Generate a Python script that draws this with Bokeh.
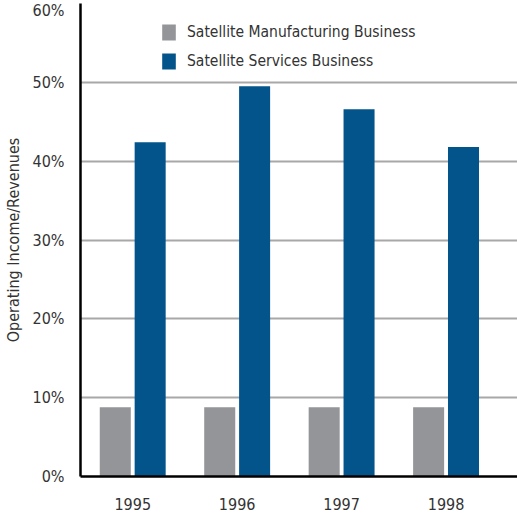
from bokeh.plotting import figure
from bokeh.models import (ColumnDataSource, Range1d, FixedTicker, PrintfTickFormatter,
                          Legend, LegendItem)
from bokeh.transform import dodge
from bokeh.embed import file_html
from bokeh.resources import INLINE

years = [1995, 1996, 1997, 1998]
year_labels = ["1995", "1996", "1997", "1998"]
manufacturing = [8.8, 8.8, 8.8, 8.8]
services = [42.4, 49.5, 46.6, 41.8]
y_ticks = [0, 10, 20, 30, 40, 50, 60]

FONT = "DejaVu Sans Condensed"
TXT = "#333333"
GREY = "#939598"
BLUE = "#02548a"

src = ColumnDataSource(dict(x=years, m=manufacturing, s=services))

p = figure(width=517, height=515, output_backend="svg", toolbar_location=None,
           x_range=Range1d(1994.5, 1998.684), y_range=Range1d(0, 60),
           min_border_left=80, min_border_right=0, min_border_top=3, min_border_bottom=39)
p.outline_line_color = None

r1 = p.vbar(x=dodge("x", -0.167), top="m", width=0.297, source=src,
            fill_color=GREY, line_color=None)
r2 = p.vbar(x=dodge("x", 0.167), top="s", width=0.297, source=src,
            fill_color=BLUE, line_color=None)

p.xgrid.grid_line_color = None
p.ygrid.grid_line_color = "#a8a8a8"
p.ygrid.grid_line_width = 2
p.ygrid.ticker = FixedTicker(ticks=y_ticks)

p.yaxis.ticker = FixedTicker(ticks=y_ticks)
p.yaxis.formatter = PrintfTickFormatter(format="%d%%")
p.xaxis.ticker = FixedTicker(ticks=years)
p.xaxis.major_label_overrides = {y: l for y, l in zip(years, year_labels)}

for ax in (p.xaxis[0], p.yaxis[0]):
    ax.axis_line_color = "black"
    ax.axis_line_width = 2.5
    ax.major_tick_line_color = None
    ax.minor_tick_line_color = None
    ax.major_label_text_font = FONT
    ax.major_label_text_font_size = "16px"
    ax.major_label_text_color = TXT

p.xaxis.major_label_standoff = 15
p.yaxis.major_label_standoff = 10
p.yaxis.axis_label = "Operating Income/Revenues"
p.yaxis.axis_label_text_font = FONT
p.yaxis.axis_label_text_font_size = "16px"
p.yaxis.axis_label_text_font_style = "normal"
p.yaxis.axis_label_text_color = TXT
p.yaxis.axis_label_standoff = 7

legend = Legend(items=[LegendItem(label="Satellite Manufacturing Business", renderers=[r1]),
                       LegendItem(label="Satellite Services Business", renderers=[r2])],
                location=(80, 405), padding=0, margin=0, spacing=9,
                glyph_width=17, glyph_height=20, label_height=20, label_standoff=10,
                label_text_font=FONT, label_text_font_size="15.5px", label_text_color=TXT,
                border_line_color=None, background_fill_alpha=0)
p.add_layout(legend)

open("out.html", "w").write(file_html(p, INLINE))
